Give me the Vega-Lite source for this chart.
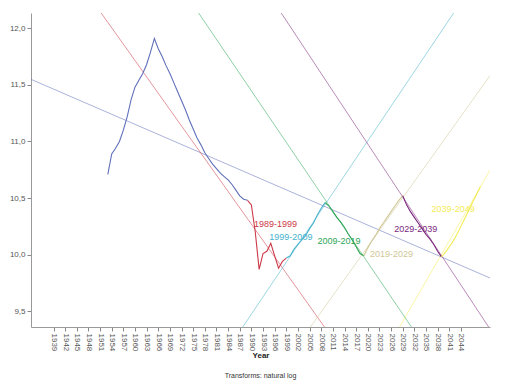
{
  "$schema": "https://vega.github.io/schema/vega-lite/v6.json",
  "width": 459,
  "height": 314,
  "autosize": {"type": "none"},
  "padding": {"left": 31, "top": 13, "right": 24, "bottom": 58},
  "background": "white",
  "config": {"view": {"stroke": null}, "font": "Liberation Sans"},
  "title": {"text": "Transforms: natural log", "orient": "bottom", "anchor": "middle", "fontSize": 7, "fontWeight": "normal", "color": "#333333", "offset": 12},
  "datasets": {
    "series": [
      {"g": "base", "year": 1953, "v": 10.71},
      {"g": "base", "year": 1954, "v": 10.89},
      {"g": "base", "year": 1955, "v": 10.94},
      {"g": "base", "year": 1956, "v": 11.0},
      {"g": "base", "year": 1957, "v": 11.1},
      {"g": "base", "year": 1958, "v": 11.22},
      {"g": "base", "year": 1959, "v": 11.37},
      {"g": "base", "year": 1960, "v": 11.48},
      {"g": "base", "year": 1961, "v": 11.54},
      {"g": "base", "year": 1962, "v": 11.6},
      {"g": "base", "year": 1963, "v": 11.68},
      {"g": "base", "year": 1964, "v": 11.79},
      {"g": "base", "year": 1965, "v": 11.91},
      {"g": "base", "year": 1966, "v": 11.82},
      {"g": "base", "year": 1967, "v": 11.75},
      {"g": "base", "year": 1968, "v": 11.67},
      {"g": "base", "year": 1969, "v": 11.6},
      {"g": "base", "year": 1970, "v": 11.52},
      {"g": "base", "year": 1971, "v": 11.44},
      {"g": "base", "year": 1972, "v": 11.36},
      {"g": "base", "year": 1973, "v": 11.28},
      {"g": "base", "year": 1974, "v": 11.19},
      {"g": "base", "year": 1975, "v": 11.11},
      {"g": "base", "year": 1976, "v": 11.03},
      {"g": "base", "year": 1977, "v": 10.97},
      {"g": "base", "year": 1978, "v": 10.9},
      {"g": "base", "year": 1979, "v": 10.85},
      {"g": "base", "year": 1980, "v": 10.8},
      {"g": "base", "year": 1981, "v": 10.76},
      {"g": "base", "year": 1982, "v": 10.72},
      {"g": "base", "year": 1983, "v": 10.69},
      {"g": "base", "year": 1984, "v": 10.66},
      {"g": "base", "year": 1985, "v": 10.62},
      {"g": "base", "year": 1986, "v": 10.57},
      {"g": "base", "year": 1987, "v": 10.52},
      {"g": "base", "year": 1988, "v": 10.49},
      {"g": "base", "year": 1989, "v": 10.48},
      {"g": "1989-1999", "year": 1989, "v": 10.48},
      {"g": "1989-1999", "year": 1990, "v": 10.44},
      {"g": "1989-1999", "year": 1991, "v": 10.2},
      {"g": "1989-1999", "year": 1992, "v": 9.87},
      {"g": "1989-1999", "year": 1993, "v": 10.01},
      {"g": "1989-1999", "year": 1994, "v": 10.03},
      {"g": "1989-1999", "year": 1995, "v": 10.1},
      {"g": "1989-1999", "year": 1996, "v": 9.99},
      {"g": "1989-1999", "year": 1997, "v": 9.88},
      {"g": "1989-1999", "year": 1998, "v": 9.94},
      {"g": "1989-1999", "year": 1999, "v": 9.97},
      {"g": "1999-2009", "year": 1999, "v": 9.97},
      {"g": "1999-2009", "year": 2000, "v": 9.99},
      {"g": "1999-2009", "year": 2001, "v": 10.05},
      {"g": "1999-2009", "year": 2002, "v": 10.09},
      {"g": "1999-2009", "year": 2003, "v": 10.13},
      {"g": "1999-2009", "year": 2004, "v": 10.17},
      {"g": "1999-2009", "year": 2005, "v": 10.23},
      {"g": "1999-2009", "year": 2006, "v": 10.28},
      {"g": "1999-2009", "year": 2007, "v": 10.35},
      {"g": "1999-2009", "year": 2008, "v": 10.41},
      {"g": "1999-2009", "year": 2009, "v": 10.46},
      {"g": "2009-2019", "year": 2009, "v": 10.46},
      {"g": "2009-2019", "year": 2010, "v": 10.43},
      {"g": "2009-2019", "year": 2011, "v": 10.38},
      {"g": "2009-2019", "year": 2012, "v": 10.33},
      {"g": "2009-2019", "year": 2013, "v": 10.29},
      {"g": "2009-2019", "year": 2014, "v": 10.24},
      {"g": "2009-2019", "year": 2015, "v": 10.18},
      {"g": "2009-2019", "year": 2016, "v": 10.13},
      {"g": "2009-2019", "year": 2017, "v": 10.07},
      {"g": "2009-2019", "year": 2018, "v": 10.01},
      {"g": "2009-2019", "year": 2019, "v": 9.99},
      {"g": "2019-2029", "year": 2019, "v": 9.99},
      {"g": "2019-2029", "year": 2020, "v": 10.06},
      {"g": "2019-2029", "year": 2021, "v": 10.12},
      {"g": "2019-2029", "year": 2022, "v": 10.17},
      {"g": "2019-2029", "year": 2023, "v": 10.23},
      {"g": "2019-2029", "year": 2024, "v": 10.28},
      {"g": "2019-2029", "year": 2025, "v": 10.33},
      {"g": "2019-2029", "year": 2026, "v": 10.38},
      {"g": "2019-2029", "year": 2027, "v": 10.43},
      {"g": "2019-2029", "year": 2028, "v": 10.48},
      {"g": "2019-2029", "year": 2029, "v": 10.52},
      {"g": "2029-2039", "year": 2029, "v": 10.52},
      {"g": "2029-2039", "year": 2030, "v": 10.44},
      {"g": "2029-2039", "year": 2031, "v": 10.38},
      {"g": "2029-2039", "year": 2032, "v": 10.33},
      {"g": "2029-2039", "year": 2033, "v": 10.28},
      {"g": "2029-2039", "year": 2034, "v": 10.23},
      {"g": "2029-2039", "year": 2035, "v": 10.18},
      {"g": "2029-2039", "year": 2036, "v": 10.14},
      {"g": "2029-2039", "year": 2037, "v": 10.09},
      {"g": "2029-2039", "year": 2038, "v": 10.03},
      {"g": "2029-2039", "year": 2039, "v": 9.98},
      {"g": "2039-2049", "year": 2039, "v": 9.98},
      {"g": "2039-2049", "year": 2040, "v": 10.02},
      {"g": "2039-2049", "year": 2041, "v": 10.07},
      {"g": "2039-2049", "year": 2042, "v": 10.12},
      {"g": "2039-2049", "year": 2043, "v": 10.18},
      {"g": "2039-2049", "year": 2044, "v": 10.25},
      {"g": "2039-2049", "year": 2045, "v": 10.32},
      {"g": "2039-2049", "year": 2046, "v": 10.39},
      {"g": "2039-2049", "year": 2047, "v": 10.46},
      {"g": "2039-2049", "year": 2048, "v": 10.53},
      {"g": "2039-2049", "year": 2049, "v": 10.6}
    ],
    "fits": [
      {"g": "base", "year": 1933.2, "v": 11.549},
      {"g": "base", "year": 2051.5, "v": 9.794},
      {"g": "1989-1999", "year": 1933.2, "v": 13.007},
      {"g": "1989-1999", "year": 2051.5, "v": 7.305},
      {"g": "1999-2009", "year": 1933.2, "v": 6.575},
      {"g": "1999-2009", "year": 2051.5, "v": 12.613},
      {"g": "2009-2019", "year": 1933.2, "v": 14.32},
      {"g": "2009-2019", "year": 2051.5, "v": 8.337},
      {"g": "2019-2029", "year": 1933.2, "v": 5.904},
      {"g": "2019-2029", "year": 2051.5, "v": 11.582},
      {"g": "2029-2039", "year": 1933.2, "v": 15.482},
      {"g": "2029-2039", "year": 2051.5, "v": 9.343},
      {"g": "2039-2049", "year": 1933.2, "v": 3.719},
      {"g": "2039-2049", "year": 2051.5, "v": 10.746}
    ],
    "labels": [
      {"g": "1989-1999", "year": 1990.69, "v": 10.271},
      {"g": "1999-2009", "year": 1994.63, "v": 10.159},
      {"g": "2009-2019", "year": 2007.04, "v": 10.121},
      {"g": "2019-2029", "year": 2020.56, "v": 10.006},
      {"g": "2029-2039", "year": 2026.82, "v": 10.227},
      {"g": "2039-2049", "year": 2036.45, "v": 10.404}
    ]
  },
  "encoding": {
    "x": {
      "field": "year",
      "type": "quantitative",
      "scale": {"domain": [1933.2, 2051.5], "nice": false, "zero": false},
      "axis": {
        "title": "Year",
        "values": [1939, 1942, 1945, 1948, 1951, 1954, 1957, 1960, 1963, 1966, 1969, 1972, 1975, 1978, 1981, 1984, 1987, 1990, 1993, 1996, 1999, 2002, 2005, 2008, 2011, 2014, 2017, 2020, 2023, 2026, 2029, 2032, 2035, 2038, 2041, 2044],
        "format": "d",
        "labelAngle": 90,
        "labelFontSize": 8,
        "labelColor": "#555555",
        "labelPadding": 2,
        "labelOverlap": false,
        "labelFlush": false,
        "tickSize": 4,
        "tickColor": "#888888",
        "domainColor": "#999999",
        "grid": false,
        "titleFontSize": 8,
        "titleFontWeight": "bold",
        "titleColor": "#222222",
        "titlePadding": 1
      }
    },
    "y": {
      "field": "v",
      "type": "quantitative",
      "scale": {"domain": [9.361, 12.135], "nice": false, "zero": false},
      "axis": {
        "title": null,
        "values": [9.5, 10, 10.5, 11, 11.5, 12],
        "labelExpr": "replace(format(datum.value, '.1f'), '.', ',')",
        "labelFontSize": 8,
        "labelColor": "#555555",
        "labelPadding": 2,
        "tickSize": 4,
        "tickColor": "#888888",
        "domainColor": "#999999",
        "grid": false
      }
    },
    "color": {
      "field": "g",
      "type": "nominal",
      "legend": null,
      "scale": {
        "domain": ["base", "1989-1999", "1999-2009", "2009-2019", "2019-2029", "2029-2039", "2039-2049"],
        "range": ["#6070bb", "#cc3a48", "#48b2cc", "#2ea556", "#cfc796", "#7c287d", "#f3ec55"]
      }
    }
  },
  "layer": [
    {
      "data": {"name": "fits"},
      "mark": {"type": "line", "clip": true, "strokeWidth": 0.9, "strokeOpacity": 0.6},
      "encoding": {"detail": {"field": "g"}}
    },
    {
      "data": {"name": "series"},
      "mark": {"type": "line", "clip": true, "strokeWidth": 1.1},
      "encoding": {"detail": {"field": "g"}}
    },
    {
      "data": {"name": "labels"},
      "mark": {"type": "text", "align": "left", "baseline": "middle", "fontSize": 9},
      "encoding": {"text": {"field": "g"}}
    }
  ]
}
